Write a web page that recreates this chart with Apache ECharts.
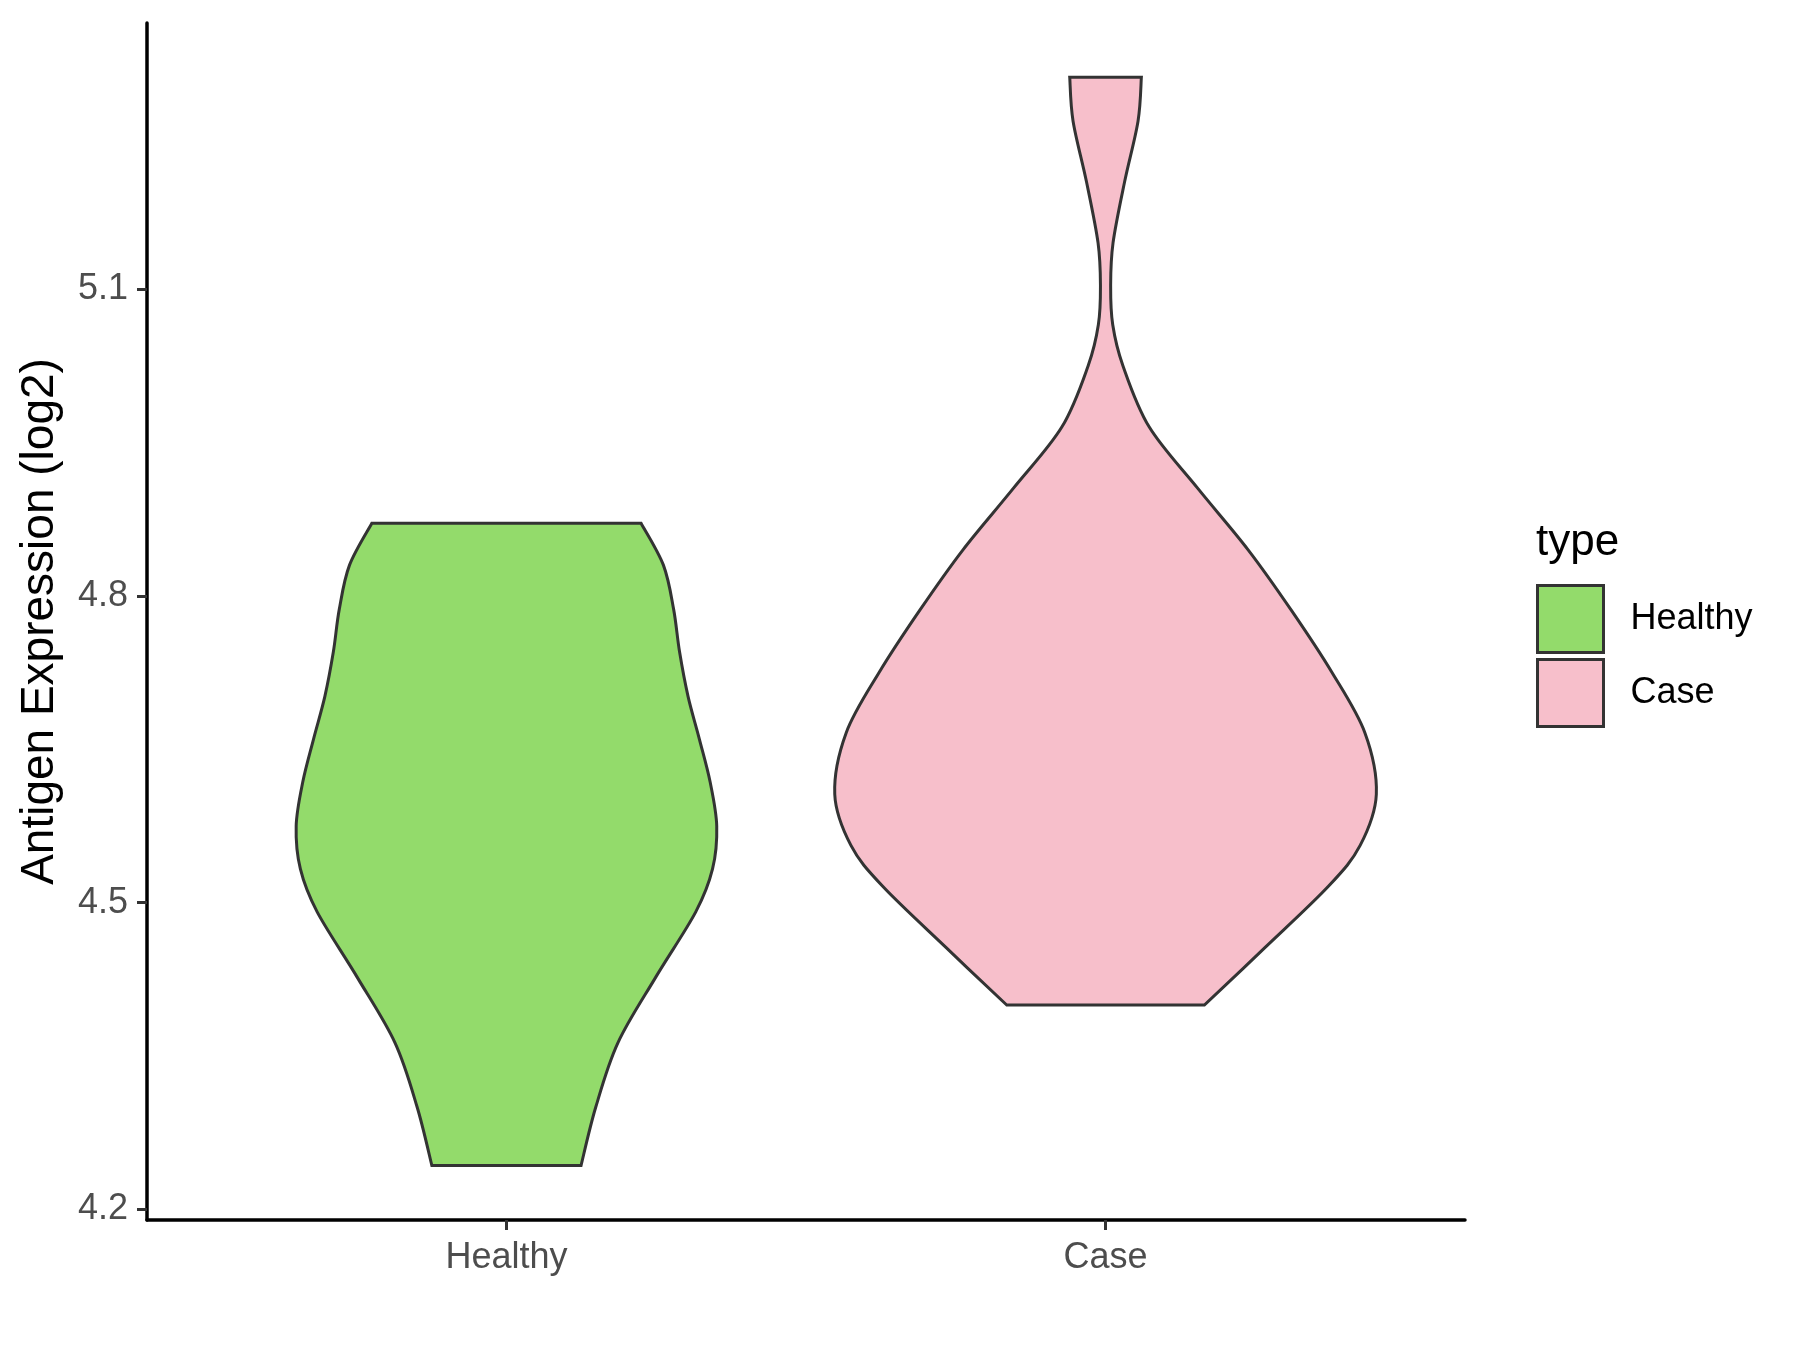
<!DOCTYPE html>
<html><head><meta charset="utf-8">
<script src="https://cdn.jsdelivr.net/npm/echarts@6/dist/echarts.min.js"></script>
<style>html,body{margin:0;padding:0;background:#fff}#c{width:1800px;height:1350px}</style>
</head><body><div id="c"></div>
<script>
const categories = ['Healthy', 'Case'];
const yTicks = [4.2, 4.5, 4.8, 5.1];
// violin outlines: expression value and half-width (category units), bottom to top
const healthyY = [4.243, 4.300, 4.363, 4.427, 4.491, 4.533, 4.575, 4.618, 4.660, 4.702, 4.745, 4.787, 4.830, 4.871];
const healthyHalfWidth = [0.1245, 0.149, 0.186, 0.249, 0.316, 0.344, 0.351, 0.340, 0.322, 0.303, 0.289, 0.279, 0.262, 0.2247];
const caseY = [4.400, 4.456, 4.516, 4.556, 4.606, 4.666, 4.726, 4.786, 4.845, 4.905, 4.965, 5.025, 5.065, 5.103, 5.145, 5.205, 5.264, 5.307];
const caseHalfWidth = [0.165, 0.266, 0.372, 0.425, 0.452, 0.433, 0.377, 0.310, 0.238, 0.154, 0.073, 0.029, 0.012, 0.0085, 0.0125, 0.0319, 0.0542, 0.0598];
const fillColors = ['#93DB6B', '#F7BFCB'];

const FONT = '"Liberation Sans", Arial, sans-serif';

function curveThrough(pts) {
  let d = '';
  for (let i = 0; i < pts.length - 1; i++) {
    const p0 = pts[Math.max(i - 1, 0)], p1 = pts[i], p2 = pts[i + 1], p3 = pts[Math.min(i + 2, pts.length - 1)];
    const c1x = p1[0] + (p2[0] - p0[0]) / 6, c1y = p1[1] + (p2[1] - p0[1]) / 6;
    const c2x = p2[0] - (p3[0] - p1[0]) / 6, c2y = p2[1] - (p3[1] - p1[1]) / 6;
    d += ' C' + c1x + ' ' + c1y + ' ' + c2x + ' ' + c2y + ' ' + p2[0] + ' ' + p2[1];
  }
  return d;
}

function violinSeries(idx, ys, hws) {
  return {
    type: 'custom',
    name: categories[idx],
    coordinateSystem: 'cartesian2d',
    itemStyle: { color: fillColors[idx] },
    data: [[idx + 1, ys[0]]],
    clip: false,
    renderItem: function (params, api) {
      const c = idx + 1;
      const left = ys.map((y, i) => api.coord([c - hws[i], y]));
      const right = ys.map((y, i) => api.coord([c + hws[i], y])).reverse();
      let d = 'M' + left[0][0] + ' ' + left[0][1];
      d += curveThrough(left);
      d += ' L' + right[0][0] + ' ' + right[0][1];
      d += curveThrough(right);
      d += ' Z';
      return {
        type: 'path',
        shape: { pathData: d },
        style: { fill: fillColors[idx], stroke: '#333333', lineWidth: 3, lineJoin: 'miter' }
      };
    }
  };
}

const chart = echarts.init(document.getElementById('c'), null, { renderer: 'canvas' });
chart.setOption({
  animation: false,
  backgroundColor: '#ffffff',
  grid: { left: 147, right: 335, top: 23, bottom: 130, containLabel: false },
  xAxis: {
    type: 'value', min: 0.4, max: 2.6,
    splitLine: { show: false },
    axisLine: { show: true, lineStyle: { color: '#000', width: 3.5 } },
    axisTick: { show: true, customValues: [1, 2], length: 10, lineStyle: { color: '#333', width: 3 } },
    axisLabel: { customValues: [1, 2], formatter: v => categories[Math.round(v) - 1], color: '#4D4D4D', fontSize: 36, fontFamily: FONT, margin: 20 }
  },
  yAxis: {
    type: 'value', min: 4.1898, max: 5.36,
    splitLine: { show: false },
    axisLine: { show: true, lineStyle: { color: '#000', width: 3.5 } },
    axisTick: { show: true, customValues: yTicks, length: 10, lineStyle: { color: '#333', width: 3 } },
    axisLabel: { customValues: yTicks, formatter: v => v.toFixed(1), color: '#4D4D4D', fontSize: 36, fontFamily: FONT, margin: 19 },
    name: 'Antigen Expression (log2)', nameLocation: 'middle', nameGap: 84, nameRotate: 90,
    nameTextStyle: { color: '#000', fontSize: 46, fontFamily: FONT }
  },
  legend: {
    orient: 'vertical', left: 1536, top: 584, padding: 0,
    itemWidth: 66, itemHeight: 67, itemGap: 4, icon: 'rect', selectedMode: false,
    itemStyle: { borderColor: '#333', borderWidth: 3 },
    textStyle: { color: '#000', fontSize: 36, fontFamily: FONT, padding: [0, 0, 0, 22] },
    data: categories
  },
  graphic: [{
    type: 'text', left: 1536, top: 521,
    style: { text: 'type', fill: '#000', fontSize: 44, fontFamily: FONT }
  }],
  series: [
    violinSeries(0, healthyY, healthyHalfWidth),
    violinSeries(1, caseY, caseHalfWidth)
  ]
});
</script></body></html>
